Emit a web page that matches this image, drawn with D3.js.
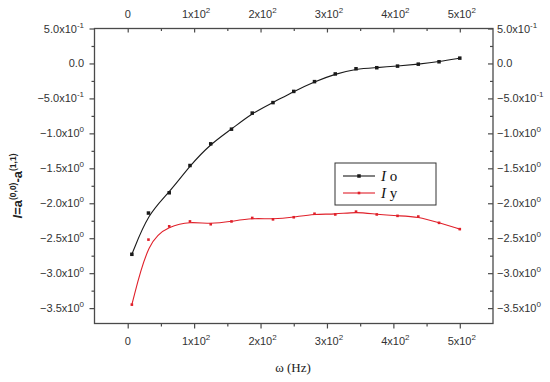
<!DOCTYPE html>
<html>
<head>
<meta charset="utf-8">
<script src="https://cdn.jsdelivr.net/npm/d3@7"></script>
<style>
body { margin: 0; background: #fff; }
</style>
</head>
<body>
<div id="chart"></div>
<script>
// Chart values.
var omega = [6.25, 31.25, 62.5, 93.75, 125, 156.25, 187.5, 218.75, 250,
             281.25, 312.5, 343.75, 375, 406.25, 437.5, 468.75, 500];
var ioValues = [-2.73, -2.14, -1.85, -1.46, -1.15, -0.94, -0.71, -0.56, -0.40,
                -0.26, -0.15, -0.076, -0.061, -0.038, -0.01, 0.024, 0.076];
var iyValues = [-3.45, -2.52, -2.33, -2.26, -2.30, -2.26, -2.21, -2.23, -2.20,
                -2.15, -2.16, -2.12, -2.16, -2.18, -2.19, -2.28, -2.37];

var xTickValues = [0, 100, 200, 300, 400, 500];
var xTickLabels = [["0", ""], ["1x10", "2"], ["2x10", "2"], ["3x10", "2"], ["4x10", "2"], ["5x10", "2"]];
var xMinorValues = [50, 150, 250, 350, 450];

var yTickValues = [0.5, 0, -0.5, -1, -1.5, -2, -2.5, -3, -3.5];
var yTickLabels = [["5.0x10", "-1"], ["0.0", ""], ["\u22125.0x10", "-1"], ["\u22121.0x10", "0"],
                   ["\u22121.5x10", "0"], ["\u22122.0x10", "0"], ["\u22122.5x10", "0"],
                   ["\u22123.0x10", "0"], ["\u22123.5x10", "0"]];
var yMinorValues = [0.25, -0.25, -0.75, -1.25, -1.75, -2.25, -2.75, -3.25];

var seriesNames = ["o", "y"];

var W = 550, H = 382;
var frame = {left: 94.5, right: 493, top: 28.5, bottom: 323.5};
var axisColor = "#4a4a4a";
var labelColor = "#333";
var sans = "'Liberation Sans', Arial, sans-serif";
var serif = "'Liberation Serif', 'Times New Roman', serif";

var svg = d3.select("#chart").append("svg")
    .attr("width", W)
    .attr("height", H)
    .style("background-color", "white");

var x = d3.scaleLinear().domain([-50, 550]).range([frame.left, frame.right]);
var y = d3.scaleLinear().domain([-3.72, 0.5]).range([frame.bottom, frame.top]);

/**
  * Writes a label like 5.0x10^-1 into a text selection.
  */
function sciLabel(text, parts){
    text.append("tspan").text(parts[0]);
    if (parts[1] != ""){
        text.append("tspan").attr("dy", -5).attr("font-size", 8).text(parts[1]);
    }
}

/**
  * Draws one set of ticks with a d3 axis and drops its labels.
  */
function ticks(axisFn, scale, values, size, transform){
    var g = svg.append("g")
        .attr("transform", transform)
        .call(axisFn(scale).tickValues(values).tickSize(size).tickFormat(""));
    g.select(".domain").remove();
    g.selectAll("line").attr("stroke", axisColor).attr("stroke-width", 1.2);
    return g;
}

// bottom: outward, top: inward, left: outward, right: inward
ticks(d3.axisBottom, x, xTickValues, 5, "translate(0," + frame.bottom + ")");
ticks(d3.axisBottom, x, xMinorValues, 3, "translate(0," + frame.bottom + ")");
ticks(d3.axisBottom, x, xTickValues, 4, "translate(0," + frame.top + ")");
ticks(d3.axisBottom, x, xMinorValues, 2.5, "translate(0," + frame.top + ")");
ticks(d3.axisLeft, y, yTickValues, 5, "translate(" + frame.left + ",0)");
ticks(d3.axisLeft, y, yMinorValues, 3, "translate(" + frame.left + ",0)");
ticks(d3.axisLeft, y, yTickValues, 5, "translate(" + frame.right + ",0)");
ticks(d3.axisLeft, y, yMinorValues, 3, "translate(" + frame.right + ",0)");

svg.append("rect")
    .attr("x", frame.left)
    .attr("y", frame.top)
    .attr("width", frame.right - frame.left)
    .attr("height", frame.bottom - frame.top)
    .attr("fill", "none")
    .attr("stroke", axisColor)
    .attr("stroke-width", 1.3);

// tick labels
var xi = d3.range(xTickValues.length);
[345, 18].forEach(function(base){
    svg.append("g").selectAll("text").data(xi).enter().append("text")
        .attr("x", function(i){ return x(xTickValues[i]) + (xTickLabels[i][1] ? 2 : 0); })
        .attr("y", base)
        .attr("text-anchor", "middle")
        .attr("font-family", sans)
        .attr("font-size", 11)
        .attr("fill", labelColor)
        .each(function(i){ sciLabel(d3.select(this), xTickLabels[i]); });
});

var yi = d3.range(yTickValues.length);
svg.append("g").selectAll("text").data(yi).enter().append("text")
    .attr("x", 84)
    .attr("y", function(i){ return y(yTickValues[i]) + 4; })
    .attr("text-anchor", "end")
    .attr("font-family", sans)
    .attr("font-size", 11)
    .attr("fill", labelColor)
    .each(function(i){ sciLabel(d3.select(this), yTickLabels[i]); });
svg.append("g").selectAll("text").data(yi).enter().append("text")
    .attr("x", 497)
    .attr("y", function(i){ return y(yTickValues[i]) + 4; })
    .attr("text-anchor", "start")
    .attr("font-family", sans)
    .attr("font-size", 11)
    .attr("fill", labelColor)
    .each(function(i){ sciLabel(d3.select(this), yTickLabels[i]); });

// axis titles
svg.append("text")
    .attr("x", 293)
    .attr("y", 372)
    .attr("text-anchor", "middle")
    .attr("font-family", serif)
    .attr("font-size", 13)
    .attr("fill", "#222")
    .text("\u03c9 (Hz)");

var yTitle = svg.append("text")
    .attr("transform", "translate(22,186) rotate(-90)")
    .attr("text-anchor", "middle")
    .attr("font-family", sans)
    .attr("font-size", 13)
    .attr("font-weight", "bold")
    .attr("fill", "#222");
yTitle.append("tspan").attr("font-style", "italic").text("I");
yTitle.append("tspan").text("=a");
yTitle.append("tspan").attr("dy", -6).attr("font-size", 8.5).text("(0,0)");
yTitle.append("tspan").attr("dy", 6).text("-a");
yTitle.append("tspan").attr("dy", -6).attr("font-size", 8.5).text("(1,1)");

// series
var series = [
    {name: seriesNames[0], values: ioValues, color: "#1a1a1a", size: 3.5},
    {name: seriesNames[1], values: iyValues, color: "#e0202a", size: 2.6}
];

var line = d3.line()
    .x(function(d){ return x(d[0]); })
    .y(function(d){ return y(d[1]); })
    .curve(d3.curveBasis);

series.forEach(function(s){
    var pts = d3.zip(omega, s.values);
    svg.append("path")
        .datum(pts)
        .attr("d", line)
        .attr("fill", "none")
        .attr("stroke", s.color)
        .attr("stroke-width", 1.1);
    svg.append("g").selectAll("rect").data(pts).enter().append("rect")
        .attr("x", function(d){ return x(d[0]) - s.size / 2; })
        .attr("y", function(d){ return y(d[1]) - s.size / 2; })
        .attr("width", s.size)
        .attr("height", s.size)
        .attr("fill", s.color);
});

// legend
var lg = svg.append("g").attr("transform", "translate(335,163)");
lg.append("rect")
    .attr("width", 101)
    .attr("height", 42)
    .attr("fill", "white")
    .attr("stroke", "#333")
    .attr("stroke-width", 1);
series.forEach(function(s, i){
    var cy = 13 + i * 17;
    lg.append("line")
        .attr("x1", 8).attr("x2", 40)
        .attr("y1", cy).attr("y2", cy)
        .attr("stroke", s.color)
        .attr("stroke-width", 1.1);
    lg.append("rect")
        .attr("x", 24 - s.size / 2).attr("y", cy - s.size / 2)
        .attr("width", s.size).attr("height", s.size)
        .attr("fill", s.color);
    var t = lg.append("text")
        .attr("x", 46)
        .attr("y", cy + 5)
        .attr("font-family", serif)
        .attr("font-size", 15)
        .attr("fill", "#111");
    t.append("tspan").attr("font-style", "italic").text("I");
    t.append("tspan").text(" " + s.name);
});
</script>
</body>
</html>
